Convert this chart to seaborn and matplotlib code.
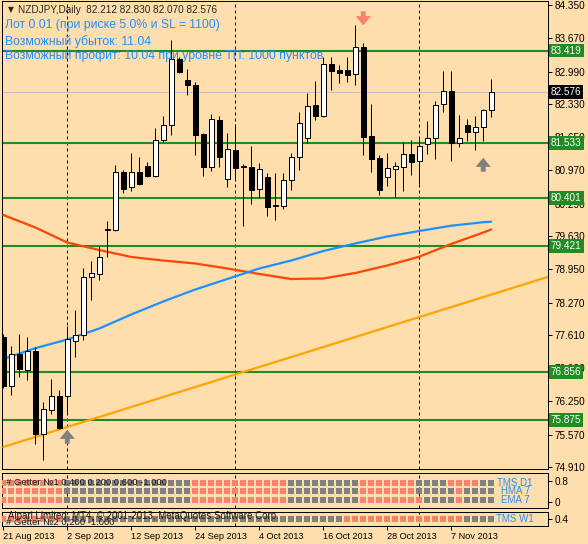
import matplotlib
matplotlib.use("Agg")
import numpy as np
import pandas as pd
import matplotlib.pyplot as plt
import seaborn as sns

W, H = 588, 544

# --- NZDJPY, Daily: бары с 21 Aug 2013 по 14 Nov 2013
dates = pd.bdate_range("2013-08-21", "2013-11-14")

opens = [77.572, 76.571, 77.225, 76.898, 77.274, 75.590, 76.081, 76.361, 76.367, 77.491,
         77.601, 78.798, 78.860, 79.760, 79.760, 80.932, 80.625, 80.932, 81.060, 80.862,
         81.585, 81.892, 83.247, 82.818, 82.715, 81.714, 81.046, 82.000, 80.789, 81.387,
         81.046, 81.046, 80.586, 80.829, 80.253, 80.249, 80.768, 81.238, 81.626, 82.301,
         82.088, 83.144, 83.022, 83.022, 82.934, 83.486, 81.673, 81.224, 80.829, 81.005,
         81.046, 81.299, 81.156, 81.504, 81.626, 82.321, 82.587, 81.536, 81.892, 81.761,
         81.851, 82.212]
highs = [77.628, 77.382, 77.628, 77.566, 77.368, 76.238, 76.708, 76.483, 77.791, 78.118,
         78.976, 79.119, 79.420, 79.930, 81.081, 80.979, 81.320, 81.250, 81.148, 81.843,
         82.088, 83.635, 83.294, 83.036, 82.771, 81.728, 82.117, 82.088, 81.728, 81.918,
         81.101, 81.469, 81.122, 80.917, 80.923, 80.923, 81.332, 82.158, 82.546, 82.797,
         83.294, 83.294, 83.124, 83.281, 83.941, 83.567, 82.327, 81.279, 81.320, 81.148,
         81.545, 81.592, 81.606, 81.980, 82.395, 83.001, 83.001, 82.102, 82.014, 82.076,
         82.219, 82.830]
lows = [76.524, 76.387, 76.755, 76.688, 75.386, 75.059, 75.999, 75.686, 76.019, 77.164,
        77.505, 78.322, 78.737, 79.207, 79.726, 80.502, 80.556, 80.672, 80.842, 80.842,
        81.557, 81.688, 82.954, 82.511, 81.285, 80.862, 80.964, 81.046, 80.637, 80.815,
        79.844, 80.294, 80.406, 80.039, 79.957, 80.188, 80.564, 80.979, 81.536, 82.000,
        82.055, 82.613, 82.762, 82.783, 82.715, 81.285, 80.944, 80.468, 80.658, 80.433,
        80.556, 80.883, 80.686, 81.305, 81.197, 82.170, 81.169, 81.455, 81.571, 81.387,
        81.577, 82.070]
closes = [76.571, 77.219, 76.918, 77.274, 75.590, 76.089, 76.355, 75.701, 77.519, 77.607,
          78.786, 78.868, 79.195, 79.750, 80.932, 80.596, 80.932, 80.686, 80.862, 81.585,
          81.892, 83.247, 82.987, 82.709, 81.694, 81.046, 82.021, 81.250, 81.408, 81.026,
          81.040, 80.570, 80.995, 80.229, 80.243, 80.768, 81.238, 81.933, 82.292, 82.088,
          83.138, 83.008, 82.967, 82.926, 83.486, 81.659, 81.209, 80.576, 81.019, 81.060,
          81.299, 81.148, 81.463, 81.626, 82.301, 82.587, 81.536, 81.626, 81.761, 81.851,
          82.198, 82.576]

ma_idx = [0, 4, 8, 12, 16, 20, 24, 28, 32, 36, 40, 44, 48, 52, 56, 60, 61]
ma_red = [80.059, 79.804, 79.497, 79.344, 79.201, 79.129, 79.068, 78.966, 78.854,
          78.751, 78.762, 78.874, 79.027, 79.207, 79.467, 79.701, 79.763]
ma_blue = [77.117, 77.337, 77.515, 77.740, 78.026, 78.292, 78.537, 78.751, 78.966,
           79.129, 79.323, 79.477, 79.620, 79.732, 79.840, 79.912, 79.922]
trend_idx = [0, 68]
trend_val = [75.32, 78.79]

levels = [83.419, 81.533, 80.401, 79.421, 76.856, 75.875]
price_ticks = [84.350, 83.670, 82.990, 82.330, 81.650, 80.970, 80.290, 79.630,
               78.950, 78.270, 77.610, 76.930, 76.250, 75.570, 74.910]
date_ticks = ["2013-08-21", "2013-09-02", "2013-09-12", "2013-09-24",
              "2013-10-04", "2013-10-16", "2013-10-28", "2013-11-07"]
sig_down = [45]
sig_up = [8, 60]

# Getter: 1 = красный квадрат, 0 = серый
tms_d1 = [1, 1, 1, 1, 1, 1, 1, 1, 0, 0, 0, 0, 0, 0, 0, 0, 0, 0, 0, 0, 0, 0, 0, 0,
          1, 1, 1, 1, 1, 1, 1, 1, 1, 1, 1, 1, 0, 0, 0, 0, 0, 0, 0, 0, 0,
          1, 1, 1, 1, 1, 1, 1, 0, 0, 0, 0, 1, 1, 1, 1, 0, 0]
hma7 = [1, 1, 1, 1, 1, 1, 1, 1, 0, 0, 0, 0, 0, 0, 0, 0, 0, 0, 0, 0, 0, 0, 0, 0,
        1, 1, 1, 1, 1, 1, 1, 1, 1, 1, 1, 1, 0, 0, 0, 0, 0, 0, 0, 0, 0,
        1, 1, 1, 1, 1, 1, 1, 0, 0, 0, 0, 0, 1, 0, 0, 0, 0]
ema7 = [1, 1, 1, 1, 1, 1, 1, 1, 0, 0, 0, 0, 0, 0, 0, 0, 0, 0, 0, 0, 0, 0, 0, 0,
        1, 1, 1, 1, 1, 1, 1, 1, 1, 1, 1, 1, 0, 0, 0, 0, 0, 0, 0, 0, 0,
        1, 1, 1, 1, 1, 1, 1, 1, 0, 0, 0, 0, 1, 0, 0, 0, 0]
tms_w1 = [1, 1, 1, 1, 1, 1, 1, 1, 0, 0, 0, 0, 0, 0, 0, 0, 0, 0, 0, 0, 0, 0, 0, 0,
          0, 0, 0, 0, 0, 0, 0, 0, 0, 0, 0, 0, 0, 0, 0, 0, 0, 0, 0,
          1, 1, 1, 1, 1, 1, 1, 1, 1, 1, 1, 1, 1, 1, 1, 0, 0, 0, 0]

BG = "#FFDEAD"
GREEN = "#228B22"
BLUE = "#1E90FF"
SALMON = "#FA8072"
GRAY = "#808080"
PX = 0.72  # 1 пиксель в пунктах

sns.set_style("white")
plt.rcParams["font.family"] = ["Liberation Sans", "DejaVu Sans"]


def px_axes(fig, left, top, right, bottom):
    return fig.add_axes([left / W, 1 - bottom / H, (right - left) / W, (bottom - top) / H])


def price_at(y):
    # 84.350 на y=5, 74.910 на y=467
    return 84.350 - (y - 5) * (84.350 - 74.910) / 462


k = (84.350 - 74.910) / 462
xlim = (-0.16, 68.1)

fig = plt.figure(figsize=(W / 100, H / 100), dpi=100, facecolor=BG)
ax = px_axes(fig, 2, 1, 548, 469)
ax1 = px_axes(fig, 2, 473, 548, 508)
ax2 = px_axes(fig, 2, 512, 548, 526)

for a in (ax, ax1, ax2):
    a.set_facecolor(BG)
    a.set_xlim(*xlim)
    for s in a.spines.values():
        s.set_color("black")
        s.set_linewidth(PX)
    a.yaxis.tick_right()
    a.tick_params(axis="y", direction="out", length=3, width=PX, pad=1.5,
                  labelsize=7.2, colors="black")
    a.tick_params(axis="x", bottom=False, labelbottom=False)

x = np.arange(len(dates))
o, h, l, c = map(np.array, (opens, highs, lows, closes))

ax.set_ylim(price_at(469), price_at(1))
ax.set_yticks(price_ticks)
ax.set_yticklabels([f"{p:.3f}" for p in price_ticks])

# разделители месяцев
month_start = [i for i in range(1, len(dates)) if dates[i].month != dates[i - 1].month]
for a in (ax, ax1, ax2):
    for i in month_start:
        a.axvline(i, color="black", lw=PX, ls=(0, (3, 3)), zorder=1)

# уровни
for lv in levels:
    ax.axhline(lv, color=GREEN, lw=1.5, zorder=2)
    ax.annotate(f"{lv:.3f}", xy=(1.0, lv), xycoords=("axes fraction", "data"),
                xytext=(3, 0), textcoords="offset pixels", ha="left", va="center",
                fontsize=7.2, color="white", zorder=10, annotation_clip=False,
                bbox=dict(boxstyle="square,pad=0.18", fc=GREEN, ec="none"))
ax.axhline(c[-1], color="#C0C0C0", lw=PX, zorder=1.5)
ax.annotate(f"{c[-1]:.3f}", xy=(1.0, c[-1]), xycoords=("axes fraction", "data"),
            xytext=(3, 0), textcoords="offset pixels", ha="left", va="center",
            fontsize=7.2, color="white", zorder=10, annotation_clip=False,
            bbox=dict(boxstyle="square,pad=0.18", fc="black", ec="none"))

# средние и трендовая линия
sns.lineplot(x=trend_idx, y=trend_val, color="#FFA500", lw=1.6, ax=ax, zorder=3)
sns.lineplot(x=ma_idx, y=ma_red, color="#FF4500", lw=1.6, ax=ax, zorder=3)
sns.lineplot(x=ma_idx, y=ma_blue, color=BLUE, lw=1.6, ax=ax, zorder=3)

# свечи
up = c >= o
ax.vlines(x, l, h, color="black", lw=PX, zorder=4)
body = np.maximum(np.abs(c - o), k)
ax.bar(x, body, bottom=np.minimum(o, c), width=0.62,
       color=np.where(up, "white", "black"), edgecolor="black", lw=PX, zorder=5)

# стрелки сигналов
arrow = dict(arrowstyle="simple,head_width=1.0,head_length=0.6,tail_width=0.32",
             mutation_scale=11, lw=0, shrinkA=0, shrinkB=0)
for i in sig_down:
    head = h[i] + 18 * k
    ax.annotate("", xy=(i, head), xytext=(i, head + 14 * k),
                arrowprops=dict(arrow, color=SALMON), zorder=6)
for i in sig_up:
    head = l[i] - 17 * k
    ax.annotate("", xy=(i, head), xytext=(i, head - 14 * k),
                arrowprops=dict(arrow, color=GRAY), zorder=6)

# окно Getter №1
ax1.set_ylim(-0.229, 1.105)
ax1.set_yticks([0.8, 0.0])
ax1.set_yticklabels(["0.8", "0"])
for row, lvl in ((tms_d1, 0.724), (hma7, 0.419), (ema7, 0.076)):
    ax1.scatter(x, [lvl] * len(x), marker="s", s=19, lw=0,
                c=[SALMON if v else GRAY for v in row], zorder=3)
for txt, yy in (("TMS D1", 0.724), ("HMA 7", 0.419), ("EMA 7", 0.076)):
    ax1.text(64, yy, txt, color=BLUE, fontsize=7, ha="center", va="center")
ax1.text(0.4, 0.724, "# Getter №1 0.400 0.200 0.600 -1.000", fontsize=6.8,
         color="#1a1a1a", ha="left", va="center", zorder=5)

# окно Getter №2
ax2.set_ylim(0, 0.8)
ax2.set_yticks([0.4])
ax2.set_yticklabels(["0.4"])
ax2.scatter(x, [0.4] * len(x), marker="s", s=19, lw=0,
            c=[SALMON if v else GRAY for v in tms_w1], zorder=3)
ax2.text(64, 0.4, "TMS W1", color=BLUE, fontsize=7, ha="center", va="center")
ax2.text(0.6, 0.55, "Alpari Limited, MT4, © 2001-2013, MetaQuotes Software Corp.",
         fontsize=7, color="#1a1a1a", ha="left", va="center", zorder=5)
ax2.text(0.4, 0.2, "# Getter №2 0.200 -1.000", fontsize=6.8,
         color="#1a1a1a", ha="left", va="center", zorder=5)

# ось дат
tick_pos = [dates.get_loc(pd.Timestamp(d)) for d in date_ticks]
ax2.set_xticks(tick_pos)
ax2.set_xticklabels([pd.Timestamp(d).strftime("%-d %b %Y") for d in date_ticks])
ax2.tick_params(axis="x", bottom=True, labelbottom=True, direction="out", length=3,
                width=PX, pad=1.5, labelsize=6.6, colors="black")
for lbl in ax2.get_xticklabels():
    lbl.set_ha("left")

# надписи в углу
fig.text(8 / W, 1 - 10 / H, "▼", fontsize=5.5, ha="left", va="center",
         family=["DejaVu Sans"])
fig.text(18 / W, 1 - 10 / H,
         f"NZDJPY,Daily  {o[-1]:.3f} {h[-1]:.3f} {l[-1]:.3f} {c[-1]:.3f}",
         fontsize=7.2, ha="left", va="center")
for txt, yy in (("Лот 0.01 (при риске 5.0% и SL = 1100)", 25),
                ("Возможный убыток: 11.04", 41.5),
                ("Возможный профит: 10.04 при уровне ТП: 1000 пунктов", 56)):
    fig.text(5 / W, 1 - yy / H, txt, fontsize=8.8, color=BLUE, ha="left", va="center")

fig.savefig("out.png", dpi=100, facecolor=BG)
